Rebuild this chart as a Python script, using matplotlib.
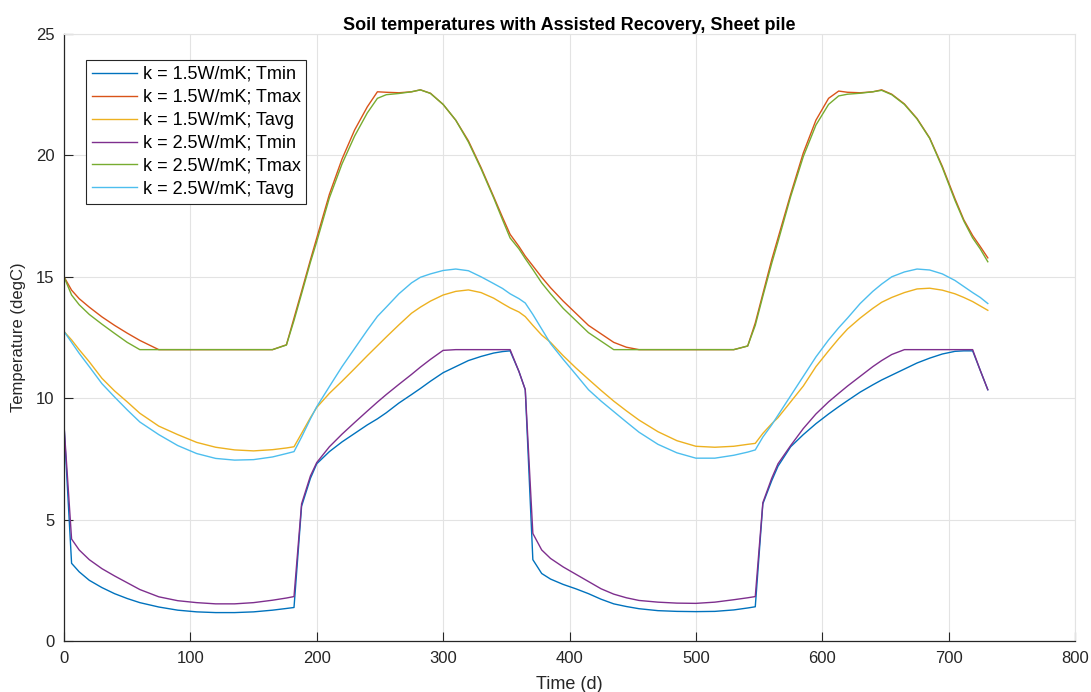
import matplotlib
matplotlib.use('Agg')
import matplotlib.pyplot as plt

plt.rcParams['font.family'] = ['Liberation Sans', 'DejaVu Sans']

# time axis (days), shared by all series
time_d = [0, 6, 12, 20, 30, 40, 50, 60, 75, 90, 105, 120, 135, 150, 165, 176, 182, 188,
          195, 200, 210, 220, 230, 240, 248, 255, 265, 275, 282, 290, 300, 310, 320, 330,
          340, 347, 353, 360, 365,
          371, 378, 385, 395, 405, 415, 425, 435, 445, 455, 470, 485, 500, 515, 530, 541,
          547, 553, 560, 565, 575, 585, 595, 605, 613, 620, 630, 640, 647, 655, 665, 675,
          685, 695, 705, 712, 719, 725, 731]

tmin_15 = [8.9, 3.2, 2.85, 2.5, 2.2, 1.95, 1.75, 1.58, 1.4, 1.27, 1.2, 1.17, 1.17, 1.2, 1.27,
           1.34, 1.38, 5.55, 6.7, 7.3, 7.8, 8.2, 8.55, 8.9, 9.15, 9.4, 9.8, 10.15, 10.4, 10.7,
           11.05, 11.3, 11.55, 11.72, 11.86, 11.92, 11.95, 11.1, 10.35,
           3.35, 2.78, 2.55, 2.33, 2.15, 1.95, 1.72, 1.53, 1.42, 1.33, 1.25, 1.22, 1.21, 1.22,
           1.28, 1.36, 1.41, 5.65, 6.6, 7.2, 8.0, 8.5, 8.95, 9.35, 9.65, 9.9, 10.25, 10.55,
           10.75, 10.95, 11.2, 11.45, 11.65, 11.82, 11.93, 11.95, 11.95, 11.15, 10.35]

tmax_15 = [15.0, 14.45, 14.1, 13.75, 13.35, 13.0, 12.68, 12.38, 12.0, 12.0, 12.0, 12.0, 12.0,
           12.0, 12.0, 12.2, 13.3, 14.4, 15.7, 16.6, 18.4, 19.85, 21.05, 22.0, 22.62, 22.6,
           22.58, 22.62, 22.7, 22.56, 22.1, 21.45, 20.6, 19.5, 18.3, 17.45, 16.75, 16.25, 15.85,
           15.45, 14.98, 14.55, 14.0, 13.5, 13.0, 12.65, 12.3, 12.1, 12.0, 12.0, 12.0, 12.0,
           12.0, 12.0, 12.15, 13.1, 14.3, 15.7, 16.6, 18.4, 20.1, 21.45, 22.35, 22.65, 22.6,
           22.58, 22.62, 22.7, 22.52, 22.12, 21.52, 20.72, 19.55, 18.22, 17.35, 16.7, 16.25,
           15.78]

tavg_15 = [12.75, 12.4, 12.0, 11.5, 10.82, 10.3, 9.85, 9.38, 8.85, 8.5, 8.18, 7.98, 7.87,
           7.83, 7.88, 7.95, 8.0, 8.55, 9.2, 9.62, 10.2, 10.7, 11.22, 11.75, 12.16, 12.52,
           13.02, 13.5, 13.75, 14.0, 14.25, 14.4, 14.46, 14.35, 14.12, 13.9, 13.72, 13.55, 13.36,
           13.0, 12.6, 12.3, 11.75, 11.25, 10.78, 10.32, 9.88, 9.48, 9.1, 8.62, 8.25, 8.02,
           7.98, 8.02, 8.1, 8.14, 8.55, 8.95, 9.2, 9.85, 10.5, 11.3, 11.95, 12.45, 12.85, 13.3,
           13.7, 13.95, 14.15, 14.35, 14.5, 14.53, 14.45, 14.3, 14.15, 13.98, 13.8, 13.62]

tmin_25 = [8.9, 4.2, 3.75, 3.35, 2.98, 2.68, 2.4, 2.12, 1.82, 1.66, 1.58, 1.53, 1.53, 1.58,
           1.68, 1.77, 1.83, 5.65, 6.8, 7.35, 8.0, 8.52, 9.0, 9.47, 9.84, 10.15, 10.57, 10.98,
           11.28, 11.6, 11.97, 12.0, 12.0, 12.0, 12.0, 12.0, 12.0, 11.1, 10.35,
           4.43, 3.75, 3.4, 3.05, 2.75, 2.45, 2.15, 1.93, 1.78, 1.67, 1.6, 1.56, 1.55, 1.6,
           1.7, 1.78, 1.83, 5.7, 6.7, 7.3, 8.05, 8.75, 9.35, 9.85, 10.2, 10.5, 10.9, 11.3,
           11.55, 11.8, 12.0, 12.0, 12.0, 12.0, 12.0, 12.0, 12.0, 11.15, 10.35]

tmax_25 = [15.0, 14.25, 13.85, 13.45, 13.05, 12.67, 12.3, 12.0, 12.0, 12.0, 12.0, 12.0, 12.0,
           12.0, 12.0, 12.19, 13.2, 14.3, 15.6, 16.45, 18.25, 19.65, 20.8, 21.75, 22.35, 22.5,
           22.55, 22.62, 22.7, 22.55, 22.1, 21.45, 20.55, 19.45, 18.25, 17.35, 16.6, 16.15, 15.75,
           15.3, 14.75, 14.3, 13.7, 13.2, 12.7, 12.35, 12.0, 12.0, 12.0, 12.0, 12.0, 12.0,
           12.0, 12.0, 12.15, 13.0, 14.2, 15.55, 16.45, 18.3, 19.95, 21.25, 22.1, 22.45, 22.52,
           22.56, 22.62, 22.68, 22.5, 22.1, 21.5, 20.7, 19.5, 18.15, 17.3, 16.6, 16.15, 15.62]

tavg_25 = [12.75, 12.3, 11.85, 11.3, 10.6, 10.05, 9.52, 9.02, 8.5, 8.05, 7.72, 7.52, 7.45,
           7.47, 7.58, 7.72, 7.8, 8.4, 9.15, 9.65, 10.48, 11.3, 12.05, 12.8, 13.37, 13.75,
           14.3, 14.75, 14.98, 15.12, 15.26, 15.32, 15.25, 15.0, 14.72, 14.52, 14.3, 14.1, 13.92,
           13.45, 12.85, 12.25, 11.6, 10.98, 10.35, 9.88, 9.45, 9.02, 8.6, 8.1, 7.75, 7.53,
           7.53, 7.65, 7.78, 7.87, 8.4, 8.9, 9.3, 10.1, 10.9, 11.7, 12.4, 12.9, 13.3, 13.9,
           14.4, 14.7, 15.0, 15.2, 15.32, 15.28, 15.12, 14.85, 14.6, 14.35, 14.15, 13.9]

series = [
    (tmin_15, 'k = 1.5W/mK; Tmin', '#0072BD'),
    (tmax_15, 'k = 1.5W/mK; Tmax', '#D95319'),
    (tavg_15, 'k = 1.5W/mK; Tavg', '#EDB120'),
    (tmin_25, 'k = 2.5W/mK; Tmin', '#7E2F8E'),
    (tmax_25, 'k = 2.5W/mK; Tmax', '#77AC30'),
    (tavg_25, 'k = 2.5W/mK; Tavg', '#4DBEEE'),
]

fig = plt.figure(figsize=(10.91, 6.92), dpi=100)
ax = fig.add_axes([64 / 1091, 51 / 692, 1011 / 1091, 607 / 692])

for values, label, color in series:
    ax.plot(time_d, values, color=color, linewidth=1.0, label=label)

ax.set_xlim(0, 800)
ax.set_ylim(0, 25)
ax.set_xticks(range(0, 801, 100))
ax.set_yticks(range(0, 26, 5))
ax.grid(True, color='#e3e3e3', linewidth=0.8)
ax.set_axisbelow(True)

for side in ['left', 'bottom']:
    ax.spines[side].set_color('#262626')
    ax.spines[side].set_linewidth(0.9)
for side in ['top', 'right']:
    ax.spines[side].set_color('#e3e3e3')
    ax.spines[side].set_linewidth(0.8)

ax.tick_params(direction='in', length=6.5, width=0.8, colors='#262626',
               labelsize=12, pad=7, top=False, right=False)

ax.set_title('Soil temperatures with Assisted Recovery, Sheet pile',
             fontsize=13, fontweight='bold', pad=1)
ax.set_xlabel('Time (d)', fontsize=13, color='#262626')
ax.set_ylabel('Temperature (degC)', fontsize=12, color='#262626')
ax.xaxis.set_label_coords(0.5, -0.058)
ax.yaxis.set_label_coords(-0.038, 0.5)

leg = ax.legend(loc='upper left', bbox_to_anchor=(22 / 1011, 1 - 26 / 607),
                borderaxespad=0, fontsize=13, handlelength=2.5, labelspacing=0.33,
                handletextpad=0.3, borderpad=0.33, fancybox=False, framealpha=1)
leg.get_frame().set_edgecolor('#262626')
leg.get_frame().set_linewidth(0.8)

fig.savefig('out.png', dpi=100)
